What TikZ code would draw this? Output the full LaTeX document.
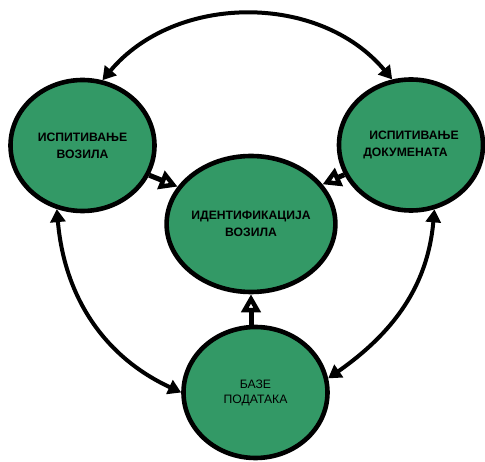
\documentclass[tikz,border=0pt]{standalone}
\usepackage{fontspec}
\setmainfont{Liberation Sans}
\usetikzlibrary{shapes.geometric,arrows.meta}
\definecolor{nodegreen}{RGB}{51,153,102}
\tikzset{
  blob/.style={ellipse, draw=black, fill=nodegreen, line width=4.6pt,
    minimum width=144pt, minimum height=131pt, inner sep=0pt,
    font=\fontsize{12.2}{17}\selectfont\bfseries, align=center},
  arc/.style={line width=4pt, {Triangle[length=13pt,width=15pt]}-{Triangle[length=13pt,width=15pt]}},
  short/.style={line width=5pt, -{Triangle[fill=white,line width=5.5pt,length=18pt,width=19pt]}}
}
\begin{document}
\begin{tikzpicture}[x=1pt,y=1pt]
\useasboundingbox (0,0) rectangle (485,461);
\node[blob] (L) at (82.5,315.5) {ИСПИТИВАЊЕ\\ВОЗИЛА};
\node[blob, align=left] (R) at (411,316) {\hspace{6pt}ИСПИТИВАЊЕ\\ДОКУМЕНАТА};
\node[blob, minimum height=136pt] (C) at (251,237) {ИДЕНТИФИКАЦИЈА\\ВОЗИЛА};
\node[blob, font=\fontsize{12.2}{15}\selectfont] (B) at (255.5,68.5) {БАЗЕ\\ПОДАТАКА};
\draw[arc] (L.73) to[out=50,in=130] (R.106);
\draw[arc] (L.248) to[out=-85,in=155] (B.180);
\draw[arc] (R.290) to[out=-95,in=35] (B.11);
\draw[short] (L.-24) -- (C.153);
\draw[short] (R.204) -- (C.29);
\draw[short] (C.south |- B.north) -- (C.south);
\end{tikzpicture}
\end{document}
